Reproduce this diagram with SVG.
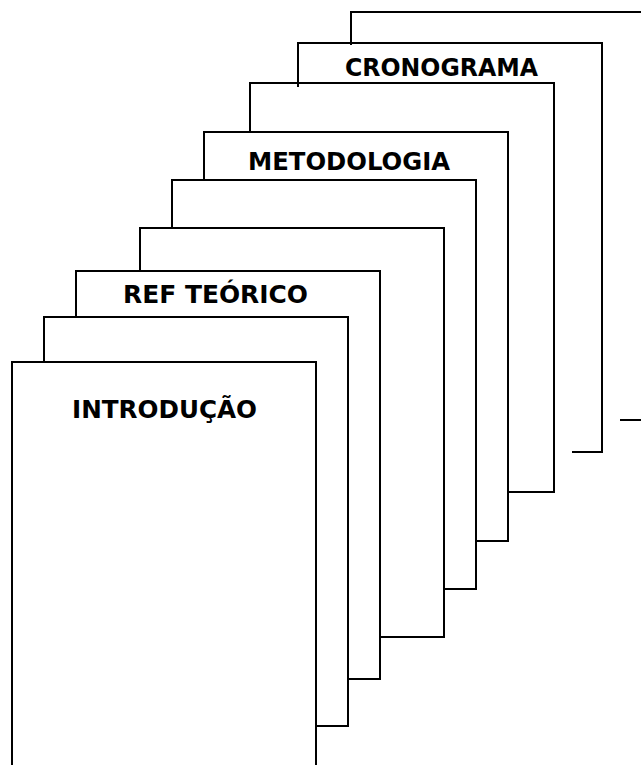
<svg xmlns="http://www.w3.org/2000/svg" width="641" height="765" viewBox="0 0 641 765">
  <style>
    .edge { fill: none; stroke: #000; stroke-width: 2; stroke-linecap: square; stroke-linejoin: miter; }
    .label { font-family: "Comic Sans MS", "DejaVu Sans", "Liberation Sans", sans-serif; font-weight: bold; font-size: 25px; fill: #000; }
  </style>
  <rect width="641" height="765" fill="#fff"/>

  <!-- stacked sheets, back to front; only the visible edges of each sheet are drawn -->
  <g id="sheet-9">
    <polyline class="edge" points="351,44 351,12 641,12"/>
    <line class="edge" x1="621" y1="420" x2="641" y2="420"/>
  </g>
  <g id="sheet-8">
    <polyline class="edge" points="298,86 298,43 602,43 602,452 573,452"/>
    <text class="label" x="345" y="76" textLength="193" lengthAdjust="spacingAndGlyphs">CRONOGRAMA</text>
  </g>
  <g id="sheet-7">
    <polyline class="edge" points="250,132 250,83 554,83 554,492 508,492"/>
  </g>
  <g id="sheet-6">
    <polyline class="edge" points="204,180 204,132 508,132 508,541 476,541"/>
    <text class="label" x="248" y="170" textLength="202" lengthAdjust="spacingAndGlyphs">METODOLOGIA</text>
  </g>
  <g id="sheet-5">
    <polyline class="edge" points="172,228 172,180 476,180 476,589 444,589"/>
  </g>
  <g id="sheet-4">
    <polyline class="edge" points="140,271 140,228 444,228 444,637 380,637"/>
  </g>
  <g id="sheet-3">
    <polyline class="edge" points="76,317 76,271 380,271 380,679 348,679"/>
    <text class="label" x="123" y="303" textLength="185" lengthAdjust="spacingAndGlyphs">REF TEÓRICO</text>
  </g>
  <g id="sheet-2">
    <polyline class="edge" points="44,362 44,317 348,317 348,726 316,726"/>
  </g>
  <g id="sheet-1">
    <polyline class="edge" points="12,766 12,362 316,362 316,766"/>
    <text class="label" x="72" y="418" textLength="185" lengthAdjust="spacingAndGlyphs">INTRODUÇÃO</text>
  </g>
</svg>
